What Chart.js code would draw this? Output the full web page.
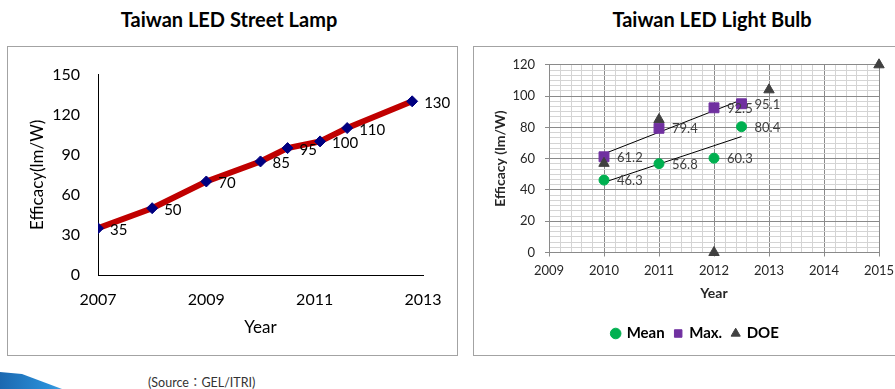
<!DOCTYPE html>
<html>
<head>
<meta charset="utf-8">
<script src="https://cdn.jsdelivr.net/npm/chart.js@4.4.1/dist/chart.umd.min.js"></script>
<style>
  html, body { margin: 0; padding: 0; width: 895px; height: 389px; overflow: hidden; background: #fff; }
  body { position: relative; font-family: Lato, "Noto Sans CJK TC", sans-serif; }
  .title { position: absolute; top: 7px; width: 400px; text-align: center; font-weight: bold; font-size: 20px; color: #000; }
  .box { position: absolute; top: 46px; height: 310px; box-sizing: border-box; border: 1px solid #a3a3a3; }
  canvas { position: absolute; }
  .source { position: absolute; left: 148px; top: 372px; font-size: 12.5px; color: #333; }
  .swoosh { position: absolute; left: 0; top: 371px; width: 140px; height: 18px;
    background: linear-gradient(90deg, #1c68b0 0%, #2a8fd8 35%, #6ab8ee 60%, rgba(200,230,250,0.4) 85%, rgba(255,255,255,0) 100%);
    clip-path: polygon(0 1px, 22px 3px, 62px 18px, 0 18px); }
</style>
</head>
<body>
<div class="title" style="left:29px">Taiwan LED Street Lamp</div>
<div class="title" style="left:512px">Taiwan LED Light Bulb</div>
<div class="box" style="left:7px; width:451px"></div>
<div class="box" style="left:473px; width:450px"></div>
<canvas id="lampChart" width="449" height="308" style="left:8px; top:47px"></canvas>
<canvas id="bulbChart" width="441" height="308" style="left:474px; top:47px"></canvas>
<div class="source">(Source：GEL/ITRI)</div>
<div class="swoosh"></div>
<script>
// street lamp efficacy by year
const lampYears = [2007, 2008, 2009, 2010, 2010.5, 2011.1, 2011.6, 2012.8];
const lampEfficacy = [35, 50, 70, 85, 95, 100, 110, 130];
const lampYearTicks = [2007, 2009, 2011, 2013];
const lampEffTicks = [0, 30, 60, 90, 120, 150];

// light bulb efficacy by year
const meanYears = [2010, 2011, 2012, 2012.5];
const meanEfficacy = [46.3, 56.8, 60.3, 80.4];
const maxYears = [2010, 2011, 2012, 2012.5];
const maxEfficacy = [61.2, 79.4, 92.5, 95.1];
const doeYears = [2010, 2011, 2012, 2013, 2015];
const doeEfficacy = [57, 85, 0, 104, 120];
const bulbYearTicks = [2009, 2010, 2011, 2012, 2013, 2014, 2015];
const bulbEffTicks = [0, 20, 40, 60, 80, 100, 120];

Chart.defaults.font.family = 'Lato';

const toPoints = (xs, ys) => xs.map((x, i) => ({ x: x, y: ys[i] }));

// least squares line over the span of the series
function trendLine(xs, ys) {
  const n = xs.length;
  const mx = xs.reduce((a, b) => a + b, 0) / n;
  const my = ys.reduce((a, b) => a + b, 0) / n;
  let sxy = 0, sxx = 0;
  xs.forEach((x, i) => { sxy += (x - mx) * (ys[i] - my); sxx += (x - mx) * (x - mx); });
  const slope = sxy / sxx;
  const x0 = Math.min(...xs), x1 = Math.max(...xs);
  return [{ x: x0, y: my + slope * (x0 - mx) }, { x: x1, y: my + slope * (x1 - mx) }];
}

// major ticks plus evenly split minor ones, for the grid
function withMinor(major, parts) {
  const out = [];
  major.forEach((v, i) => {
    out.push({ value: v, major: true });
    if (i < major.length - 1) {
      const step = (major[i + 1] - v) / parts;
      for (let k = 1; k < parts; k++) out.push({ value: v + k * step, major: false });
    }
  });
  return out;
}

// writes each point's value to the right of the marker
const valueLabels = {
  id: 'valueLabels',
  afterDatasetsDraw(chart, args, opts) {
    const ctx = chart.ctx;
    ctx.save();
    ctx.font = opts.font;
    ctx.fillStyle = opts.color;
    ctx.textAlign = 'left';
    ctx.textBaseline = 'middle';
    chart.data.datasets.forEach((ds, i) => {
      if (!ds.valueFormat) return;
      chart.getDatasetMeta(i).data.forEach((el, j) => {
        ctx.fillText(ds.valueFormat(ds.data[j].y), el.x + opts.dx, el.y + opts.dy);
      });
    });
    ctx.restore();
  }
};

// centre the legend under the whole frame rather than the padded area
const legendShift = {
  id: 'legendShift',
  afterLayout(chart, args, opts) {
    if (!chart.legend) return;
    chart.legend.left += opts.dx;
    chart.legend.right += opts.dx;
  }
};

new Chart(document.getElementById('lampChart'), {
  type: 'scatter',
  data: {
    datasets: [{
      data: toPoints(lampYears, lampEfficacy),
      showLine: true,
      borderColor: '#c00000',
      borderWidth: 6,
      pointStyle: 'rectRot',
      pointRadius: 5.5,
      pointBackgroundColor: '#000080',
      pointBorderColor: '#000080',
      pointBorderWidth: 1,
      valueFormat: v => String(v)
    }]
  },
  options: {
    responsive: false,
    animation: false,
    layout: { padding: { left: 0, top: 18, right: 34, bottom: 0 } },
    plugins: {
      legend: { display: false },
      tooltip: { enabled: false },
      valueLabels: { font: '15px Lato', color: '#000', dx: 12, dy: 2 }
    },
    scales: {
      x: {
        type: 'linear', min: 2007, max: 2013,
        afterBuildTicks: s => { s.ticks = lampYearTicks.map(v => ({ value: v })); },
        afterFit: s => { s.height = 80; },
        grid: { display: false, drawTicks: false },
        border: { display: true, color: '#000', width: 1 },
        ticks: { padding: 15, color: '#000', font: { size: 16 }, maxRotation: 0, callback: v => String(v) },
        title: { display: true, text: 'Year', color: '#000', font: { size: 17 }, padding: { top: 0, bottom: 17 } }
      },
      y: {
        min: 0, max: 150,
        afterBuildTicks: s => { s.ticks = lampEffTicks.map(v => ({ value: v })); },
        afterFit: s => { s.width = 90; },
        grid: { display: false, drawTicks: false },
        border: { display: true, color: '#000', width: 1 },
        ticks: { padding: 18, color: '#000', font: { size: 16 } },
        title: { display: true, text: 'Efficacy(lm/W)', color: '#000', font: { size: 17 }, padding: { top: 19, bottom: 0 } }
      }
    }
  },
  plugins: [valueLabels]
});

const gridMajor = '#8a8a8a';
const gridMinor = '#d4d4d4';
const isMajor = c => c.tick && c.tick.major;

new Chart(document.getElementById('bulbChart'), {
  type: 'scatter',
  data: {
    datasets: [
      {
        label: 'Mean', data: toPoints(meanYears, meanEfficacy), order: 2,
        pointStyle: 'circle', pointRadius: 5, backgroundColor: '#00b050', borderColor: '#00b050',
        valueFormat: v => v.toFixed(1)
      },
      {
        label: 'Max.', data: toPoints(maxYears, maxEfficacy), order: 1,
        pointStyle: 'rect', pointRadius: 7, backgroundColor: '#7030a0', borderColor: '#7030a0',
        valueFormat: v => v.toFixed(1)
      },
      {
        label: 'DOE', data: toPoints(doeYears, doeEfficacy), order: 0,
        pointStyle: 'triangle', pointRadius: 6, backgroundColor: '#404040', borderColor: '#404040'
      },
      {
        label: 'mean trend', data: trendLine(meanYears, meanEfficacy), order: 3,
        showLine: true, borderColor: '#000', borderWidth: 1, pointRadius: 0
      },
      {
        label: 'max trend', data: trendLine(maxYears, maxEfficacy), order: 3,
        showLine: true, borderColor: '#000', borderWidth: 1, pointRadius: 0
      }
    ]
  },
  options: {
    responsive: false,
    animation: false,
    clip: false,
    layout: { padding: { left: 0, top: 16, right: 36, bottom: 4 } },
    plugins: {
      legend: {
        position: 'bottom',
        labels: {
          usePointStyle: true, boxWidth: 7, boxHeight: 7.5, padding: 10,
          color: '#000', font: { size: 15, weight: 'bold' },
          filter: item => item.datasetIndex < 3,
          sort: (a, b) => a.datasetIndex - b.datasetIndex
        }
      },
      legendShift: { dx: 19 },
      tooltip: { enabled: false },
      valueLabels: { font: '13px Lato', color: '#404040', dx: 13, dy: 1 }
    },
    scales: {
      x: {
        type: 'linear', min: 2009, max: 2015,
        afterBuildTicks: s => { s.ticks = withMinor(bulbYearTicks, 5); },
        afterFit: s => { s.height = 63.5; },
        grid: {
          color: c => isMajor(c) ? gridMajor : gridMinor,
          tickColor: c => isMajor(c) ? gridMajor : 'rgba(0,0,0,0)',
          tickLength: 4
        },
        border: { color: gridMajor },
        ticks: {
          autoSkip: false, maxRotation: 0, padding: 7, color: '#262626', font: { size: 13 },
          callback: (v, i, ticks) => ticks[i].major ? String(v) : ''
        },
        title: { display: true, text: 'Year', color: '#262626', font: { size: 14, weight: 'bold' }, padding: { top: 0, bottom: 14 } }
      },
      y: {
        min: 0, max: 120,
        afterBuildTicks: s => { s.ticks = withMinor(bulbEffTicks, 6); },
        afterFit: s => { s.width = 75; },
        grid: {
          color: c => isMajor(c) ? gridMajor : gridMinor,
          tickColor: c => isMajor(c) ? gridMajor : 'rgba(0,0,0,0)',
          tickLength: 4
        },
        border: { color: gridMajor },
        ticks: {
          autoSkip: false, padding: 10, color: '#262626', font: { size: 13 },
          callback: (v, i, ticks) => ticks[i].major ? String(v) : ''
        },
        title: { display: true, text: 'Efficacy (lm/W)', color: '#262626', font: { size: 14, weight: 'bold' }, padding: { top: 17.6, bottom: 0 } }
      }
    }
  },
  plugins: [valueLabels, legendShift]
});
</script>
</body>
</html>
